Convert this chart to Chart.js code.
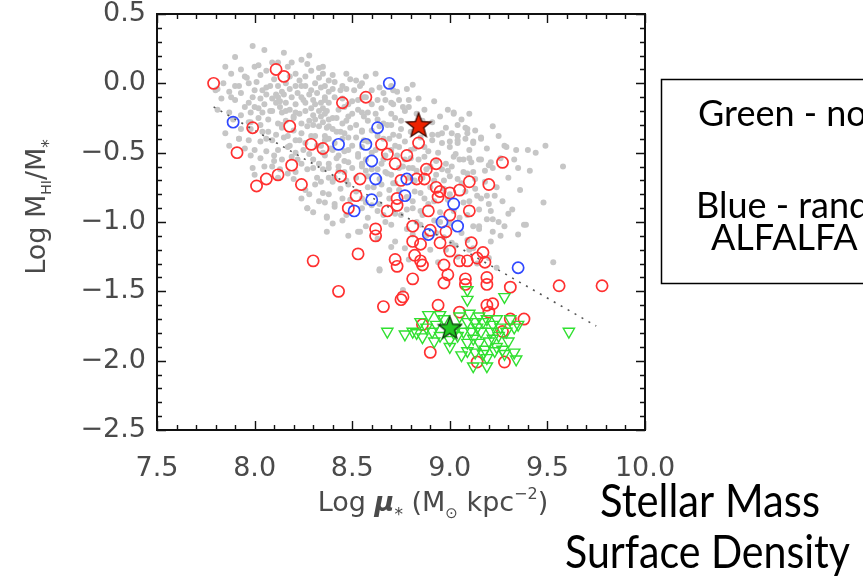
<!DOCTYPE html>
<html><head><meta charset="utf-8">
<script src="https://cdn.jsdelivr.net/npm/chart.js@4.4.1/dist/chart.umd.min.js"></script>
<style>html,body{margin:0;padding:0;background:#fff;}#wrap{width:863px;height:581px;}</style>
</head><body><div id="wrap"><canvas id="c" width="863" height="581"></canvas></div>
<script>
// ---- tick labels ----
const xTicks = [7.5, 8.0, 8.5, 9.0, 9.5, 10.0];
const yTicks = [0.5, 0.0, -0.5, -1.0, -1.5, -2.0, -2.5];

// ---- grey: full sample ----
const greyX = [7.99,8.05,7.90,7.85,7.88,7.93,8.00,8.06,8.12,8.19,8.24,8.21,8.26,8.29,8.35,8.38,7.84,7.87,7.92,7.97,8.01,8.04,8.08,8.12,8.16,8.21,8.26,8.31,8.36,7.83,7.88,7.93,7.99,8.03,8.06,8.11,8.15,8.19,8.22,8.28,8.32,8.36,8.38,7.95,8.00,8.05,8.11,8.16,8.21,8.26,8.31,8.35,7.87,7.93,8.04,8.09,8.14,8.21,8.26,8.30,8.34,8.38,8.07,8.12,8.24,8.28,8.33,8.37,7.85,7.93,8.04,8.11,8.17,8.24,8.29,8.36,7.97,8.09,8.21,8.26,8.34,7.87,8.00,8.12,8.21,8.28,8.14,8.24,8.33,8.09,
8.47,8.40,8.57,8.64,8.81,8.40,8.44,8.51,8.73,8.78,8.36,8.41,8.53,8.60,8.67,8.74,8.79,8.87,8.95,9.02,8.36,8.43,8.48,8.55,8.70,8.75,8.38,8.45,8.52,8.58,8.70,8.91,8.96,8.36,8.46,8.52,8.60,8.71,8.91,9.01,9.04,8.40,8.48,8.53,8.67,8.74,8.87,8.96,9.03,8.38,8.46,8.55,8.65,8.77,8.87,8.98,8.81,9.01,
9.10,9.04,9.08,9.09,9.04,9.04,9.12,9.16,9.07,9.10,9.11,9.20,9.28,9.34,9.40,9.49,9.33,9.35,9.58,9.18,9.09,9.13,9.14,9.19,9.23,9.20,9.15,9.32,9.48,9.22,9.39,9.15,
7.99,8.00,8.12,8.17,8.24,8.28,8.27,8.36,8.37,8.35,8.32,8.38,8.31,
8.38,8.43,8.50,8.57,8.40,8.48,8.58,8.65,8.70,8.79,8.86,8.93,8.99,8.38,8.45,8.55,8.64,8.69,8.82,8.87,8.41,8.55,8.64,8.81,8.86,8.37,8.45,8.58,8.75,9.05,8.53,8.72,8.93,9.01,8.64,8.77,8.37,
9.38,9.35,9.53,9.24,9.22,9.19,9.15,9.09,9.21,9.28,
9.29,9.02,8.79,8.71,8.76,8.94,9.04,9.09,9.16,9.12,9.00,9.05,9.16,9.21,9.12,
8.30,8.33,8.40,8.42,8.45,8.48,8.50,8.50,8.55,8.56,8.58,8.60,8.62,8.63,8.66,8.68,8.68,8.70,8.72,8.74,8.76,8.78,8.80,8.82,8.84,8.85,8.88,8.90,8.92,8.94,8.97,9.00,9.02,9.06,9.10,9.13,8.35,8.38,8.43,8.46,8.52,8.57,8.60,8.66,8.70,8.78,8.83,8.88,8.95,8.98,9.04,9.10,9.14,8.18,8.14,8.10,8.06,8.03,7.98,8.22,8.27,8.20,8.16,8.12,8.25,8.45,8.52,8.60,8.70,8.62,8.35,8.28,8.15,7.95,7.80,7.92,7.98,8.05,
8.54,8.64,8.76,8.27,
8.02,8.09,8.17,8.27,8.33,
7.96,8.03,8.10,8.18,8.23,8.33,8.41,8.49,8.55,
7.81,7.90,8.00,8.06,8.14,8.18,8.24,8.29,8.34,8.38,8.47,8.54,8.66,8.71,
7.90,7.97,8.09,8.13,8.24,8.30,8.34,8.45,8.50,8.57,8.63,8.70,8.84,8.92,
7.81,7.98,8.02,8.08,8.13,8.18,8.23,8.29,8.37,8.46,8.53,8.58,8.65,8.77,8.83,8.99,
7.89,7.97,8.02,8.16,8.20,8.31,8.35,8.42,8.47,8.56,8.63,8.66,8.72,8.86,9.06,
7.98,8.07,8.14,8.20,8.27,8.40,8.44,8.49,8.55,8.64,8.75,8.80,8.98,9.13,9.22,
7.92,8.03,8.15,8.23,8.31,8.37,8.41,8.48,8.56,8.63,8.69,8.77,8.85,8.91,9.08,9.25,
7.95,8.06,8.17,8.25,8.32,8.39,8.46,8.55,8.62,8.72,8.82,8.89,9.00,9.10,9.19,9.44,
8.03,8.10,8.19,8.30,8.36,8.42,8.48,8.53,8.66,8.73,8.80,8.93,9.02,9.15,9.26,
8.13,8.21,8.30,8.43,8.55,8.60,8.67,8.74,8.83,8.90,8.96,9.07,9.22,9.41,
8.20,8.34,8.41,8.47,8.58,8.64,8.71,8.79,8.92,9.00,9.04,9.18,9.30,
8.26,8.35,8.44,8.52,8.61,8.74,8.85,8.97,9.08,9.24,9.36,
8.33,8.41,8.49,8.57,8.69,8.81,8.89,8.99,9.07,9.16,9.27,
8.30,8.47,8.63,8.72,8.78,8.95,9.09,9.21,9.30,
8.40,8.57,8.67,8.85,8.92,9.00,9.12,9.25,
8.48,8.63,8.81,8.97,9.06,9.26,
8.70,8.90,9.03,9.12,
8.79,8.94,9.20];
const greyY = [0.27,0.24,0.19,0.12,0.07,0.10,0.12,0.09,0.15,0.15,0.17,0.07,0.05,0.09,0.07,0.02,0.00,-0.06,-0.02,0.00,0.01,-0.05,-0.02,-0.02,0.00,-0.02,-0.02,0.00,-0.02,-0.11,-0.10,-0.07,-0.10,-0.11,-0.08,-0.08,-0.08,-0.10,-0.07,-0.08,-0.07,-0.10,-0.14,-0.17,-0.17,-0.15,-0.14,-0.14,-0.15,-0.14,-0.15,-0.18,-0.21,-0.23,-0.21,-0.20,-0.21,-0.21,-0.20,-0.23,-0.24,-0.26,-0.26,-0.29,-0.29,-0.27,-0.31,-0.32,-0.36,-0.33,-0.35,-0.37,-0.38,-0.36,-0.38,-0.38,-0.41,-0.41,-0.41,-0.43,-0.45,-0.45,-0.48,-0.48,-0.50,-0.51,-0.55,-0.58,-0.58,-0.60,
0.07,0.06,0.05,-0.03,-0.01,-0.04,-0.05,-0.05,-0.06,-0.04,-0.12,-0.10,-0.12,-0.15,-0.12,-0.12,-0.17,-0.19,-0.24,-0.22,-0.22,-0.19,-0.24,-0.21,-0.22,-0.27,-0.31,-0.29,-0.30,-0.27,-0.30,-0.28,-0.36,-0.41,-0.36,-0.39,-0.34,-0.37,-0.37,-0.36,-0.41,-0.48,-0.48,-0.51,-0.52,-0.46,-0.46,-0.43,-0.51,-0.58,-0.56,-0.58,-0.58,-0.55,-0.53,-0.58,-0.61,-0.60,
-0.22,-0.30,-0.32,-0.36,-0.38,-0.43,-0.42,-0.40,-0.55,-0.54,-0.57,-0.59,-0.45,-0.48,-0.48,-0.45,-0.55,-0.61,-0.60,-0.63,-0.65,-0.69,-0.81,-0.81,-0.81,-0.87,-0.91,-0.91,-0.86,-0.98,-1.02,-1.03,
-0.61,-0.66,-0.68,-0.65,-0.83,-0.80,-0.90,-0.86,-0.96,-0.62,-0.68,-0.68,-0.73,
-0.61,-0.60,-0.61,-0.63,-0.71,-0.73,-0.75,-0.73,-0.66,-0.61,-0.68,-0.66,-0.63,-0.80,-0.83,-0.83,-0.80,-0.77,-0.78,-0.83,-0.89,-0.90,-0.87,-0.90,-0.95,-0.97,-0.99,-0.97,-0.95,-0.97,-1.07,-1.14,-1.08,-1.15,-1.35,-1.19,-1.07,
-1.02,-1.09,-1.29,-1.33,-1.07,-0.98,-1.05,-1.13,-1.14,-1.03,
-0.46,-0.21,-0.12,-0.15,-0.17,-0.37,-0.38,-0.33,-0.39,-0.43,-0.42,-0.55,-0.55,-0.57,-0.64,
-0.30,-0.20,-0.25,-0.35,-0.40,-0.15,-0.22,-0.45,-0.35,-0.10,-0.42,-0.50,-0.22,-0.62,-0.40,-0.30,-0.65,-0.48,-0.72,-0.38,-0.60,-0.82,-0.48,-0.70,-0.55,-0.92,-0.62,-0.75,-0.85,-0.50,-0.70,-0.80,-0.92,-0.72,-0.85,-0.76,-0.50,-0.40,-0.52,-0.64,-0.68,-0.55,-0.88,-0.95,-1.02,-1.05,-1.00,-1.10,-1.00,-1.20,-1.25,-1.20,-1.30,-0.45,-0.30,-0.52,-0.40,-0.30,-0.28,-0.55,-0.62,-0.25,-0.20,-0.10,-0.12,-0.02,0.02,-0.05,-0.02,0.07,0.12,0.20,0.22,0.05,-0.05,-0.40,-0.52,-0.60,
-1.07,-1.34,-1.49,-0.90,
0.13,0.15,0.12,0.14,0.11,
0.04,0.06,0.03,0.05,0.02,0.04,0.01,0.03,0.00,
-0.04,-0.02,-0.05,-0.03,-0.06,-0.04,-0.02,-0.05,-0.03,-0.06,-0.04,-0.02,-0.07,-0.05,
-0.12,-0.14,-0.11,-0.13,-0.10,-0.12,-0.14,-0.11,-0.13,-0.10,-0.12,-0.14,-0.11,-0.13,
-0.19,-0.21,-0.18,-0.20,-0.17,-0.19,-0.22,-0.18,-0.20,-0.17,-0.19,-0.21,-0.18,-0.20,-0.22,-0.19,
-0.26,-0.28,-0.25,-0.27,-0.24,-0.26,-0.28,-0.25,-0.27,-0.24,-0.26,-0.29,-0.25,-0.27,-0.26,
-0.33,-0.35,-0.32,-0.34,-0.31,-0.33,-0.35,-0.32,-0.34,-0.31,-0.33,-0.35,-0.32,-0.34,-0.31,
-0.40,-0.42,-0.39,-0.41,-0.38,-0.40,-0.43,-0.39,-0.41,-0.38,-0.40,-0.42,-0.39,-0.41,-0.40,-0.38,
-0.47,-0.49,-0.46,-0.48,-0.45,-0.47,-0.49,-0.46,-0.48,-0.45,-0.47,-0.49,-0.46,-0.48,-0.47,-0.50,
-0.54,-0.56,-0.53,-0.55,-0.52,-0.54,-0.57,-0.53,-0.55,-0.52,-0.54,-0.56,-0.53,-0.55,-0.54,
-0.62,-0.64,-0.61,-0.63,-0.60,-0.62,-0.64,-0.61,-0.63,-0.60,-0.62,-0.64,-0.61,-0.63,
-0.69,-0.71,-0.68,-0.70,-0.67,-0.69,-0.72,-0.68,-0.70,-0.67,-0.69,-0.71,-0.68,
-0.77,-0.79,-0.76,-0.78,-0.75,-0.77,-0.79,-0.76,-0.78,-0.75,-0.77,
-0.85,-0.87,-0.84,-0.86,-0.83,-0.85,-0.87,-0.84,-0.86,-0.83,-0.85,
-0.93,-0.95,-0.92,-0.94,-0.91,-0.93,-0.95,-0.92,-0.94,
-1.01,-1.03,-1.00,-1.02,-0.99,-1.01,-1.03,-1.00,
-1.10,-1.12,-1.09,-1.11,-1.08,-1.10,
-1.18,-1.20,-1.17,-1.19,
-1.27,-1.29,-1.26];

// ---- red circles ----
const redX = [7.79,8.11,8.15,7.99,8.18,7.91,8.45,8.57,8.29,8.35,8.19,8.12,8.06,8.01,8.24,8.44,8.54,8.65,8.68,8.72,8.78,8.84,8.88,8.93,8.83,8.87,8.75,8.52,8.48,8.68,8.73,8.73,8.89,8.93,8.95,9.00,8.94,9.05,9.10,9.20,9.27,9.00,9.10,8.81,8.90,8.98,8.62,8.62,8.53,8.30,8.43,8.81,8.85,8.95,9.00,9.11,9.17,8.72,8.73,8.82,8.85,8.86,8.97,9.05,9.09,9.14,9.18,8.99,8.97,9.08,9.08,9.19,9.19,8.81,9.31,9.56,9.78,8.76,8.75,8.66,8.94,9.05,9.19,9.22,9.20,9.31,9.38,8.86,9.27,8.90,9.14,9.28];
const redY = [0.00,0.10,0.05,-0.32,-0.31,-0.50,-0.14,-0.10,-0.44,-0.47,-0.59,-0.66,-0.69,-0.74,-0.73,-0.67,-0.69,-0.44,-0.51,-0.58,-0.52,-0.43,-0.62,-0.58,-0.69,-0.69,-0.70,-0.81,-0.90,-0.92,-0.83,-0.88,-0.92,-0.75,-0.78,-0.79,-0.82,-0.77,-0.71,-0.73,-0.57,-0.95,-0.92,-1.03,-1.06,-1.07,-1.05,-1.10,-1.23,-1.28,-1.50,-1.14,-1.16,-1.15,-1.21,-1.15,-1.22,-1.27,-1.32,-1.24,-1.28,-1.31,-1.31,-1.28,-1.28,-1.26,-1.29,-1.38,-1.44,-1.41,-1.45,-1.40,-1.45,-1.41,-1.47,-1.46,-1.46,-1.54,-1.56,-1.61,-1.60,-1.65,-1.60,-1.59,-1.65,-1.70,-1.70,-1.74,-1.79,-1.94,-2.01,-2.01];

// ---- blue circles ----
const blueX = [8.69,7.89,8.63,8.43,8.57,8.60,8.62,8.78,8.77,8.60,8.51,9.02,8.96,9.04,8.89,9.35];
const blueY = [0.00,-0.28,-0.32,-0.44,-0.44,-0.56,-0.69,-0.69,-0.81,-0.84,-0.92,-0.87,-1.00,-1.03,-1.09,-1.33];

// ---- green triangles (non-detections) ----
const greenX = [9.09,9.09,9.28,8.89,8.95,8.68,8.77,8.81,8.86,8.91,8.95,9.00,9.04,9.09,9.13,9.17,9.22,9.07,9.11,9.16,9.21,9.25,9.29,9.33,9.35,9.09,9.15,9.20,9.24,9.09,9.13,9.17,9.28,9.33,9.23,9.12,9.19,9.34,9.61,8.85,8.88,8.92,9.03,9.15,9.19,8.97,9.05,9.00,9.12,9.26,9.30,9.18,9.06,9.14,9.22,8.93,9.02,9.31,9.10,9.24,8.83,9.27,9.19];
const greenY = [-1.49,-1.56,-1.54,-1.67,-1.67,-1.79,-1.81,-1.79,-1.83,-1.79,-1.82,-1.85,-1.82,-1.72,-1.72,-1.72,-1.74,-1.79,-1.79,-1.79,-1.79,-1.82,-1.79,-1.76,-1.74,-1.87,-1.87,-1.86,-1.90,-1.93,-1.94,-1.95,-1.95,-1.94,-1.93,-2.04,-2.04,-1.99,-1.79,-1.72,-1.76,-1.86,-1.76,-1.68,-1.70,-1.70,-1.68,-1.90,-1.84,-1.76,-1.86,-1.92,-1.96,-1.76,-1.84,-1.74,-1.80,-1.70,-1.66,-1.70,-1.80,-1.92,-1.98];

// ---- stars and fit line ----
const redStarX = [8.84], redStarY = [-0.30];
const greenStarX = [9.00], greenStarY = [-1.76];
const lineX = [7.79, 9.75], lineY = [-0.17, -1.75];

const pts = (xs, ys) => xs.map((x, i) => ({x, y: ys[i]}));
const fmt = v => (v < 0 ? '\u2212' : '') + Math.abs(v).toFixed(1);

function starImage(fill, stroke, R) {
  const s = Math.ceil(R * 2 + 4), c = document.createElement('canvas');
  c.width = s; c.height = s;
  const g = c.getContext('2d'), cx = s / 2, cy = s / 2 + 1, r = R * 0.42;
  g.beginPath();
  for (let i = 0; i < 10; i++) {
    const a = -Math.PI / 2 + i * Math.PI / 5, rr = i % 2 ? r : R;
    g.lineTo(cx + rr * Math.cos(a), cy + rr * Math.sin(a));
  }
  g.closePath(); g.fillStyle = fill; g.fill();
  g.lineWidth = 1.3; g.strokeStyle = stroke; g.stroke();
  return c;
}

const TXT = '#4a4a4a';
const F = '"DejaVu Sans"';
function runsWidth(ctx, runs) { let w = 0; for (const r of runs) { ctx.font = r.f; w += ctx.measureText(r.t).width; } return w; }
function drawRuns(ctx, runs, x, y) { let cx = x; for (const r of runs) { ctx.font = r.f; ctx.fillText(r.t, cx, y + (r.dy || 0)); cx += ctx.measureText(r.t).width; } }

const decor = {
  id: 'decor',
  afterDatasetsDraw(chart) {
    const {ctx, chartArea: a, scales: {x, y}} = chart;
    ctx.save();
    ctx.strokeStyle = '#111'; ctx.lineWidth = 2;
    ctx.strokeRect(a.left, a.top, a.right - a.left, a.bottom - a.top);
    ctx.lineWidth = 1.4;
    ctx.beginPath();
    for (let k = 0; k <= 25; k++) {
      const v = 7.5 + k * 0.1, px = Math.round(x.getPixelForValue(v)) + 0.5, L = k % 5 === 0 ? 9 : 5;
      ctx.moveTo(px, a.bottom); ctx.lineTo(px, a.bottom - L);
      ctx.moveTo(px, a.top); ctx.lineTo(px, a.top + L);
    }
    for (let k = 0; k <= 30; k++) {
      const v = -2.5 + k * 0.1, py = Math.round(y.getPixelForValue(v)) + 0.5, L = k % 5 === 0 ? 9 : 5;
      ctx.moveTo(a.left, py); ctx.lineTo(a.left + L, py);
      ctx.moveTo(a.right, py); ctx.lineTo(a.right - L, py);
    }
    ctx.stroke();
    ctx.restore();
  },
  afterDraw(chart) {
    const ctx = chart.ctx;
    ctx.save();
    ctx.fillStyle = TXT; ctx.textBaseline = 'alphabetic'; ctx.textAlign = 'left';
    // x title
    const xr = [
      {t: 'Log ', f: `27px ${F}`},
      {t: '\u03bc', f: `italic bold 27px ${F}`},
      {t: '*', f: `17px ${F}`, dy: 9},
      {t: ' (M', f: `27px ${F}`},
      {t: '\u2299', f: `15px ${F}`, dy: 7},
      {t: ' kpc', f: `27px ${F}`},
      {t: '\u22122', f: `16px ${F}`, dy: -12},
      {t: ')', f: `27px ${F}`}
    ];
    const xw = runsWidth(ctx, xr);
    drawRuns(ctx, xr, 433 - xw / 2, 511);
    // y title
    const yr = [
      {t: 'Log M', f: `27px ${F}`},
      {t: 'HI', f: `14px ${F}`, dy: 6},
      {t: '/M', f: `27px ${F}`},
      {t: '*', f: `17px ${F}`, dy: 9}
    ];
    const yw = runsWidth(ctx, yr);
    ctx.save();
    ctx.translate(45, 207 + yw / 2);
    ctx.rotate(-Math.PI / 2);
    drawRuns(ctx, yr, 0, 0);
    ctx.restore();

    // annotation box
    ctx.strokeStyle = '#000'; ctx.lineWidth = 1.5;
    ctx.strokeRect(661.5, 79.5, 400, 204);
    ctx.fillStyle = '#000';
    ctx.font = '36px Lato';
    ctx.fillText('Green - non-detections', 698, 126);
    ctx.fillText('Blue - random sample of', 696, 218);
    ctx.fillText('ALFALFA galaxies', 711, 250);
    // big label
    ctx.font = '46px Lato';
    ctx.fillText('Stellar Mass', 600, 517, 220);
    ctx.fillText('Surface Density', 565, 568, 285);
    ctx.restore();
  }
};

new Chart(document.getElementById('c'), {
  type: 'scatter',
  data: {
    datasets: [
      {label: 'fit', data: pts(lineX, lineY), showLine: true, borderColor: '#555', borderWidth: 1.6, borderDash: [2, 6], pointRadius: 0, order: 5},
      {label: 'all', data: pts(greyX, greyY), pointRadius: 3, pointBackgroundColor: '#c6c6c6', pointBorderWidth: 0, order: 6},
      {label: 'red', data: pts(redX, redY), pointRadius: 5.6, pointBackgroundColor: 'rgba(0,0,0,0)', pointBorderColor: '#ff3030', pointBorderWidth: 1.7, order: 4},
      {label: 'blue', data: pts(blueX, blueY), pointRadius: 5.6, pointBackgroundColor: 'rgba(0,0,0,0)', pointBorderColor: '#3048ff', pointBorderWidth: 1.7, order: 3},
      {label: 'green', data: pts(greenX, greenY), pointStyle: 'triangle', rotation: 180, pointRadius: 6.5, pointBackgroundColor: 'rgba(0,0,0,0)', pointBorderColor: '#30e030', pointBorderWidth: 1.4, order: 2},
      {label: 'redStar', data: pts(redStarX, redStarY), pointStyle: starImage('#ee2200', '#3a0800', 13), pointRadius: 12, order: 1},
      {label: 'greenStar', data: pts(greenStarX, greenStarY), pointStyle: starImage('#22c822', '#0a300a', 12), pointRadius: 12, order: 0}
    ]
  },
  options: {
    responsive: false, animation: false, devicePixelRatio: 1,
    layout: {padding: {left: 0, right: 218, top: 14, bottom: 0}},
    plugins: {legend: {display: false}, tooltip: {enabled: false}},
    scales: {
      x: {
        type: 'linear', min: 7.5, max: 10,
        afterBuildTicks(s) { s.ticks = xTicks.map(v => ({value: v})); },
        afterFit(s) { s.height = 151; s.paddingLeft = 0; s.paddingRight = 0; },
        grid: {display: false, drawTicks: false}, border: {display: false},
        ticks: {padding: 23, color: TXT, autoSkip: false, maxRotation: 0, font: {family: 'DejaVu Sans', size: 27}, callback: v => fmt(v)}
      },
      y: {
        type: 'linear', min: -2.5, max: 0.5,
        afterBuildTicks(s) { s.ticks = yTicks.map(v => ({value: v})); },
        afterFit(s) { s.width = 157; s.paddingTop = 0; s.paddingBottom = 0; },
        grid: {display: false, drawTicks: false}, border: {display: false},
        ticks: {padding: 11, color: TXT, autoSkip: false, font: {family: 'DejaVu Sans', size: 27}, callback: v => fmt(v)}
      }
    }
  },
  plugins: [decor]
});
</script></body></html>
